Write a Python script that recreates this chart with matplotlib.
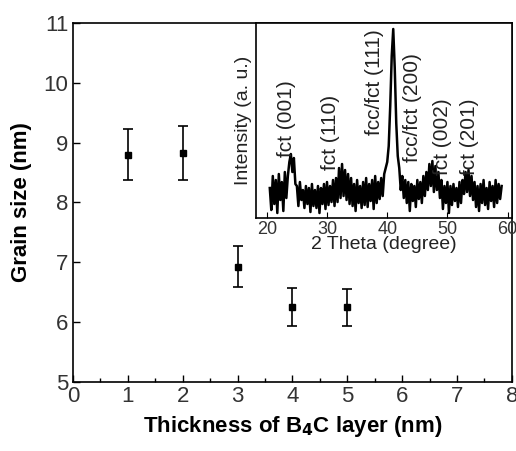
import numpy as np
import matplotlib
matplotlib.use('Agg')
import matplotlib.pyplot as plt

plt.rcParams['font.family'] = ['Liberation Sans', 'DejaVu Sans']

# main data
thickness = [1, 2, 3, 4, 5]
grain = [8.80, 8.83, 6.93, 6.25, 6.25]
grain_err = [0.43, 0.45, 0.34, 0.32, 0.31]

# XRD inset (0.25 deg step from 20.5 to 59.0)
two_theta = np.arange(20.5, 59.0 + 0.001, 0.25)
intensity = [30, 8, 42, 14, 38, 5, 44, 18, 36, 7, 46, 20, 42,
             56, 64, 46, 60, 34,
             32, 12, 36, 18, 28, 10, 32, 14, 30, 6, 34, 12, 28, 10, 32, 5, 30, 14, 34, 9, 36, 13, 32, 16, 38, 12, 40, 16,
             50, 20, 54, 22, 48, 18, 44, 14, 40,
             12, 34, 7, 38, 15, 32, 10, 36, 13, 40, 11, 34, 17, 38, 9, 42, 15, 36, 19, 40, 22, 44,
             50, 56, 72, 112, 162, 189, 150, 95, 62, 50, 28, 42, 20,
             38, 15, 36, 7, 34, 17, 32, 11, 38, 19, 36, 15, 42, 22, 46,
             28, 54, 32, 57, 26, 52, 28, 46,
             20, 38, 9, 32, 15, 36, 5, 32, 13, 34, 17, 30, 11, 36, 15, 38,
             24, 46, 26, 48, 22, 42, 18,
             36, 11, 32, 7, 34, 15, 38, 13, 30, 9, 36, 17, 32, 11, 38, 15, 34, 19, 32]
peak_labels = ['fct (001)', 'fct (110)', 'fcc/fct (111)', 'fcc/fct (200)', 'fct (002)', 'fct (201)']
peak_pos = [23.3, 30.6, 37.9, 44.2, 49.1, 53.7]
label_base = [61, 48, 83, 56, 43, 43]

fig = plt.figure(figsize=(5.16, 4.51), dpi=100)
ax = fig.add_axes([0.1415, 0.153, 0.8505, 0.796])
ax.errorbar(thickness, grain, yerr=grain_err, fmt='s', color='black', ms=4.5,
            ecolor='black', elinewidth=1.2, capsize=3.5, capthick=1.2)
ax.set_xlim(0, 8)
ax.set_ylim(5, 11)
ax.set_xticks(range(0, 9))
ax.set_xticks(np.arange(0.5, 8, 1), minor=True)
ax.set_yticks(range(5, 12))
ax.tick_params(which='both', direction='in', labelsize=16, labelcolor='#333333',
               top=False, right=False, width=1)
ax.tick_params(which='major', length=5)
ax.tick_params(which='minor', length=3)
ax.tick_params(axis='x', pad=3)
ax.set_xlabel('Thickness of B$_\\mathbf{4}$C layer (nm)', fontsize=16, fontweight='bold', labelpad=5)
ax.set_ylabel('Grain size (nm)', fontsize=16, fontweight='bold', labelpad=8)
for s in ax.spines.values():
    s.set_linewidth(1.2)

ins = fig.add_axes([0.496, 0.5166, 0.496, 0.4324])
ins.plot(two_theta, intensity, color='black', lw=1.8)
ins.set_xlim(18.2, 60.7)
ins.set_ylim(0, 195)
ins.set_xticks([20, 30, 40, 50, 60])
ins.set_yticks([])
ins.tick_params(direction='in', length=4, labelsize=13, labelcolor='#333333', pad=2)
ins.set_xlabel('2 Theta (degree)', fontsize=14, labelpad=-1, color='#222222')
ins.set_ylabel('Intensity (a. u.)', fontsize=14, labelpad=3, color='#222222')
for s in ins.spines.values():
    s.set_linewidth(1.2)
for lab, px, base in zip(peak_labels, peak_pos, label_base):
    ins.text(px, base, lab, rotation=90, ha='center', va='bottom', fontsize=15, color='#222222')

fig.savefig('out.png', dpi=100)
